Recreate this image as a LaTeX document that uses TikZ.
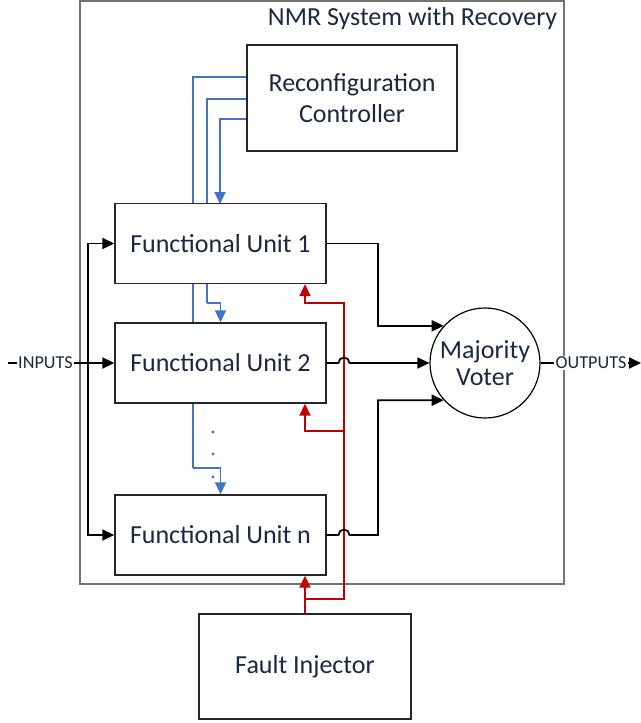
\documentclass[tikz,border=0pt]{standalone}
\usepackage{fontspec}
\setmainfont{Carlito}
\usepackage{xcolor}
\usepackage{tikz}
\usetikzlibrary{arrows.meta,positioning,calc}

\definecolor{navytext}{HTML}{1A2840}
\definecolor{ctrlblue}{HTML}{4472C4}
\definecolor{faultred}{HTML}{C00000}

\tikzset{
  block/.style={draw=black!85,line width=0.7pt,fill=white,text=navytext,
    align=center,font=\fontsize{13}{15.5}\selectfont,inner sep=0pt},
  unit/.style={block,minimum width=105.5pt,minimum height=40pt},
  bus/.style={line width=0.9pt,black},
  ctrlline/.style={line width=0.9pt,ctrlblue},
  faultline/.style={line width=0.9pt,faultred},
  iolabel/.style={fill=white,text=navytext,inner sep=0.6pt,
    font=\fontsize{9.1}{11}\selectfont},
  tip/.style={-{Triangle[length=6pt,width=5.5pt]}},
}

\begin{document}
\begin{tikzpicture}[x=0.5pt,y=-0.5pt]
\useasboundingbox (0,0) rectangle (641,723);

% system frame
\node[draw=black!55,line width=0.6pt,minimum width=242pt,minimum height=291.5pt,
  inner sep=0pt] (nmr) at (322,292.5) {};
\node[anchor=north east,text=navytext,inner sep=3.5pt,
  font=\fontsize{13}{15.5}\selectfont] (title) at (nmr.north east)
  {NMR System with Recovery};

% blocks
\node[block,minimum width=105pt,minimum height=53pt] (ctrl) at (352,98)
  {Reconfiguration\\Controller};
\node[block,minimum width=106pt,minimum height=52.5pt] (fi) at (305,666.5)
  {Fault Injector};

% blue reconfiguration lines (behind the units)
\draw[ctrlline] ($(ctrl.west)+(0,-21)$) -| (193,468) coordinate (bend1);
\draw[ctrlline] ($(ctrl.west)+(0,1)$) -| (207,303) coordinate (bend2);
\draw[ctrlline,tip] ($(ctrl.west)+(0,21)$) -| (220,204);

\node[unit] (fu1) at (220.5,243.5) {Functional Unit 1};
\node[unit] (fu2) at (220.5,363) {Functional Unit 2};
\node[unit] (fun) at (220.5,535) {Functional Unit n};

\draw[ctrlline,tip] (bend2) -| (fu2.north);
\draw[ctrlline,tip] (bend1) -| (fun.north);
\foreach \dy in {432,454,477}
  \fill[ctrlblue] (213,\dy) circle[radius=0.85pt];

\node[draw=black,line width=0.6pt,circle,minimum size=55pt,inner sep=0pt,
  text=navytext,align=center,font=\fontsize{13}{15.5}\selectfont] (vote)
  at (485,363) {Majority\\[-2pt]Voter};

% fault injection
\coordinate (tap) at ($(fi.north)+(0,-14)$);
\draw[faultline,tip] (fi.north) -- (fi.north |- fun.south);
\draw[faultline,tip] (tap) -| (344,303) -| (fi.north |- fu1.south);
\draw[faultline,tip] (344,431) -| (fi.north |- fu2.south);

% unit outputs to the voter
\draw[bus,tip] (fu1.east) -- (378,243.5) |- (vote.138);
\draw[bus,tip] (fu2.east) -- (338.5,363) arc[start angle=180,end angle=0,radius=2.75pt]
  -- (vote.west);
\draw[bus,tip] (fun.east) -- (338.5,535) arc[start angle=180,end angle=0,radius=2.75pt]
  -- (378,535) |- (vote.222);

% inputs
\coordinate (in) at (8,363);
\coordinate (split) at (88,363);
\node[iolabel] (inl) at (45.5,363) {INPUTS};
\draw[bus] (in) -- (inl.west);
\draw[bus,tip] (inl.east) -- (fu2.west);
\draw[bus,tip] (split) |- (fu1.west);
\draw[bus,tip] (split) |- (fun.west);

% outputs
\coordinate (out) at (641,363);
\node[iolabel] (outl) at (591,363) {OUTPUTS};
\draw[bus] (vote.east) -- (outl.west);
\draw[bus,tip] (outl.east) -- (out);
\end{tikzpicture}
\end{document}
